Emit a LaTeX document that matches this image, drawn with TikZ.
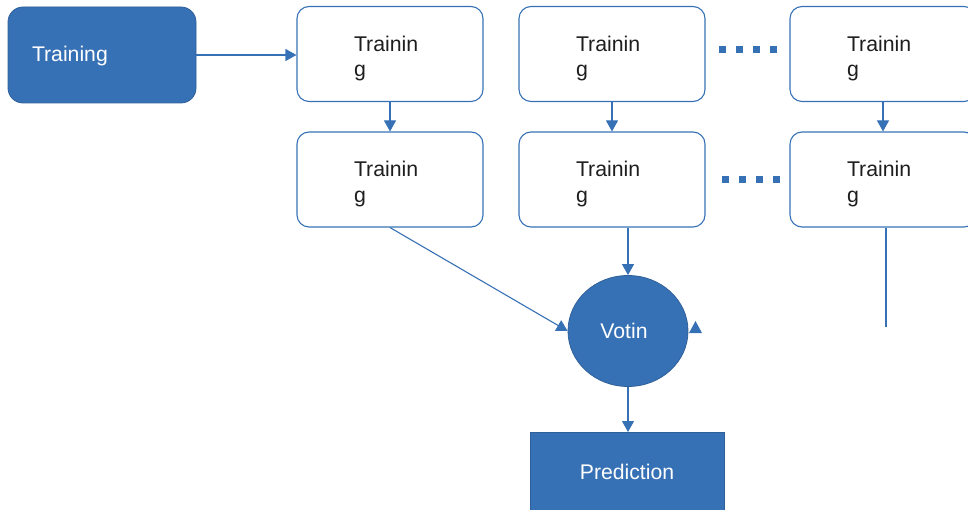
\documentclass[tikz,border=0pt]{standalone}
\usepackage{fontspec}
\setmainfont{Liberation Sans}
\usetikzlibrary{arrows.meta,shapes.geometric}
\definecolor{myblue}{HTML}{3771B5}
\definecolor{txt}{HTML}{1E1E1E}
\newcommand{\trtext}{\raisebox{2.8pt}[0pt][0pt]{\parbox[t]{72pt}{\raggedright Trainin\\g}}}
\tikzset{
  blk/.style={fill=myblue,draw=myblue!85!black,line width=0.8pt,text=white,font=\fontsize{21.2}{23}\selectfont},
  wbox/.style={draw=myblue,line width=1.1pt,rounded corners=12pt,minimum width=186pt,minimum height=95pt,
    text=txt,font=\fontsize{21.3}{25.5}\selectfont,inner sep=0pt},
  conn/.style={draw=myblue,line width=1.1pt},
  arr/.style={conn,-{Triangle[width=12pt,length=11pt]}},
  dots/.style={draw=myblue,line width=7pt,dash pattern=on 7pt off 10pt}
}
\begin{document}
\begin{tikzpicture}[x=1pt,y=-1pt]
\useasboundingbox (0,0) rectangle (968,510);
\clip (0,0) rectangle (968,510);
\node[blk,rounded corners=15pt,minimum height=96pt,minimum width=188pt,inner xsep=24pt,inner ysep=0pt] (tr) at (102,55) {\raisebox{-6.6pt}[0pt][0pt]{\makebox[140pt][l]{Training}}};
\node[wbox] (a1) at (390,54) {\trtext};
\node[wbox] (b1) at (612,54) {\trtext};
\node[wbox] (c1) at (883,54) {\trtext};
\node[wbox] (a2) at (390,179.5) {\trtext};
\node[wbox] (b2) at (612,179.5) {\trtext};
\node[wbox] (c2) at (883,179.5) {\trtext};
\node[blk,ellipse,minimum width=120pt,minimum height=111pt,inner sep=0pt] (v) at (628,331) {\hspace*{-8pt}Votin};
\node[blk,rectangle,minimum width=194pt,minimum height=84pt,anchor=north] (p) at (627,432) {\raisebox{6pt}{Prediction}};
% connectors
\draw[arr] (tr.east) -- (tr.east -| a1.west);
\draw[arr] (a1.south) -- (a2.north);
\draw[arr] (b1.south) -- (b2.north);
\draw[arr] (c1.south) -- (c2.north);
\draw[arr] (a2.south) -- (v.west);
\draw[arr] (b2.south -| v.north) -- (v.north);
\coordinate (cend) at (886,327);
\draw[conn] (c2.south -| cend) -- (cend);
\draw[arr] (v.south) -- (v.south |- p.north);
% dotted separators
\coordinate (d1s) at (719,50); \coordinate (d1e) at (778,50);
\coordinate (d2s) at (722,180); \coordinate (d2e) at (781,180);
\draw[dots] (d1s) -- (d1e);
\draw[dots] (d2s) -- (d2e);
% stray arrowhead at right of the voting node
\fill[myblue] (689,333) -- (702,333) -- (695.5,321) -- cycle;
\end{tikzpicture}
\end{document}
